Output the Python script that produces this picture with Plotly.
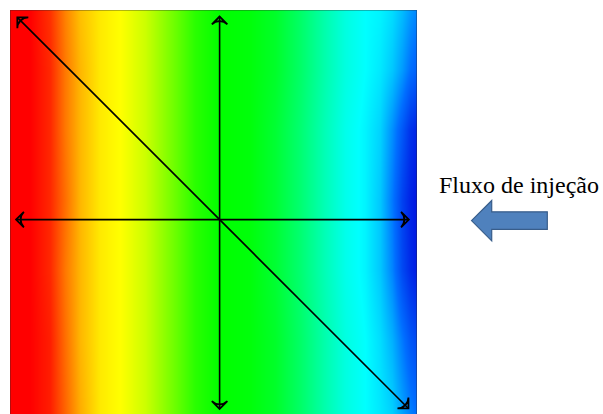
import plotly.graph_objects as go

# position along the sample (fraction of width, left -> right) and depth (top -> bottom)
pos_x = [0.0, 0.049, 0.098, 0.135, 0.172, 0.221, 0.270, 0.332, 0.393, 0.455, 0.516,
         0.590, 0.651, 0.713, 0.774, 0.823, 0.872, 0.909, 0.939, 0.963, 0.983, 1.0]
pos_y = [0.0, 0.147, 0.295, 0.467, 0.639, 0.811, 1.0]

# normalized field value (1 = red, 0 = blue)
row_0 = [1.0, 1.0, 0.95, 0.87, 0.81, 0.77, 0.75, 0.70, 0.62, 0.54, 0.50, 0.49, 0.46, 0.40, 0.33, 0.28, 0.25, 0.24, 0.22, 0.19, 0.16, 0.14]
row_1 = [1.0, 1.0, 0.96, 0.88, 0.82, 0.77, 0.75, 0.70, 0.62, 0.54, 0.50, 0.49, 0.46, 0.40, 0.33, 0.28, 0.25, 0.23, 0.20, 0.16, 0.12, 0.10]
row_2 = [1.0, 1.0, 0.96, 0.88, 0.82, 0.77, 0.75, 0.70, 0.62, 0.54, 0.50, 0.49, 0.45, 0.39, 0.32, 0.27, 0.24, 0.21, 0.15, 0.09, 0.04, 0.02]
row_3 = [1.0, 1.0, 0.96, 0.89, 0.82, 0.77, 0.75, 0.70, 0.62, 0.54, 0.50, 0.49, 0.45, 0.39, 0.32, 0.27, 0.24, 0.20, 0.13, 0.06, 0.02, 0.0]
row_4 = [1.0, 1.0, 0.96, 0.88, 0.82, 0.77, 0.75, 0.70, 0.62, 0.54, 0.50, 0.49, 0.45, 0.39, 0.32, 0.27, 0.24, 0.20, 0.14, 0.07, 0.03, 0.01]
row_5 = [1.0, 1.0, 0.97, 0.89, 0.82, 0.77, 0.75, 0.70, 0.62, 0.54, 0.50, 0.49, 0.46, 0.40, 0.33, 0.28, 0.25, 0.22, 0.18, 0.13, 0.09, 0.07]
row_6 = [1.0, 1.0, 0.97, 0.90, 0.83, 0.77, 0.75, 0.70, 0.62, 0.54, 0.50, 0.49, 0.46, 0.40, 0.33, 0.28, 0.25, 0.23, 0.21, 0.17, 0.14, 0.12]
field = [row_0, row_1, row_2, row_3, row_4, row_5, row_6]

label_text = "Fluxo de injeção"

W, H = 603, 414
L, T = 10, 10
SQ = 407
plot_h = H - T

colorscale = [
    [0.0, "rgb(0,20,225)"],
    [0.12, "rgb(0,110,255)"],
    [0.25, "rgb(0,255,255)"],
    [0.5, "rgb(0,255,0)"],
    [0.75, "rgb(255,255,0)"],
    [0.88, "rgb(255,120,0)"],
    [1.0, "rgb(255,0,0)"],
]

fig = go.Figure()
fig.add_trace(go.Heatmap(
    x=pos_x, y=pos_y, z=field, zmin=0, zmax=1, zsmooth="best",
    colorscale=colorscale, showscale=False, hoverinfo="skip",
))

def double_arrow(x0, y0, x1, y1, a0, a1):
    fig.add_trace(go.Scatter(
        x=[x0, x1], y=[y0, y1], mode="lines+markers",
        line=dict(color="black", width=1.6),
        marker=dict(symbol="arrow-wide-open", size=11, angle=[a0, a1],
                    color="black", line=dict(color="black", width=1.8)),
        cliponaxis=False, showlegend=False, hoverinfo="skip",
    ))

double_arrow(0.018, 0.018, 0.979, 0.979, -45, 135)
double_arrow(0.515, 0.016, 0.515, 0.98, 0, 180)
double_arrow(0.015, 0.515, 0.98, 0.515, -90, 90)

def px(xp, yp):
    return (xp - L) / SQ, 1 - (yp - T) / plot_h

pts = [(471.5, 220.6), (491.7, 200.5), (491.7, 211.8), (547.3, 211.8),
       (547.3, 229.4), (491.7, 229.4), (491.7, 240.8)]
path = "M " + " L ".join(f"{px(a, b)[0]:.5f},{px(a, b)[1]:.5f}" for a, b in pts) + " Z"

fig.update_layout(
    width=W, height=H,
    margin=dict(l=L, t=T, r=W - L - SQ, b=0),
    paper_bgcolor="white", plot_bgcolor="white",
    xaxis=dict(range=[0, 1], visible=False, fixedrange=True),
    yaxis=dict(range=[plot_h / SQ, 0], visible=False, fixedrange=True),
    showlegend=False,
    shapes=[
        dict(type="rect", xref="x", yref="y", x0=0, x1=1, y0=0, y1=1.0,
             line=dict(color="rgba(40,40,40,0.45)", width=1.5)),
        dict(type="path", xref="paper", yref="paper", path=path,
             fillcolor="#4F81BD", line=dict(color="#385D8A", width=1.2)),
    ],
    annotations=[
        dict(text=label_text, xref="paper", yref="paper",
             x=px(518.5, 0)[0], y=px(0, 185)[1], xanchor="center", yanchor="middle",
             showarrow=False,
             font=dict(family="Liberation Serif, Times New Roman, serif", size=24, color="black")),
    ],
)

fig.write_html(
    "out.html",
    config={"displayModeBar": False},
    post_script="document.body.style.margin='0';document.body.style.overflow='hidden';",
)
